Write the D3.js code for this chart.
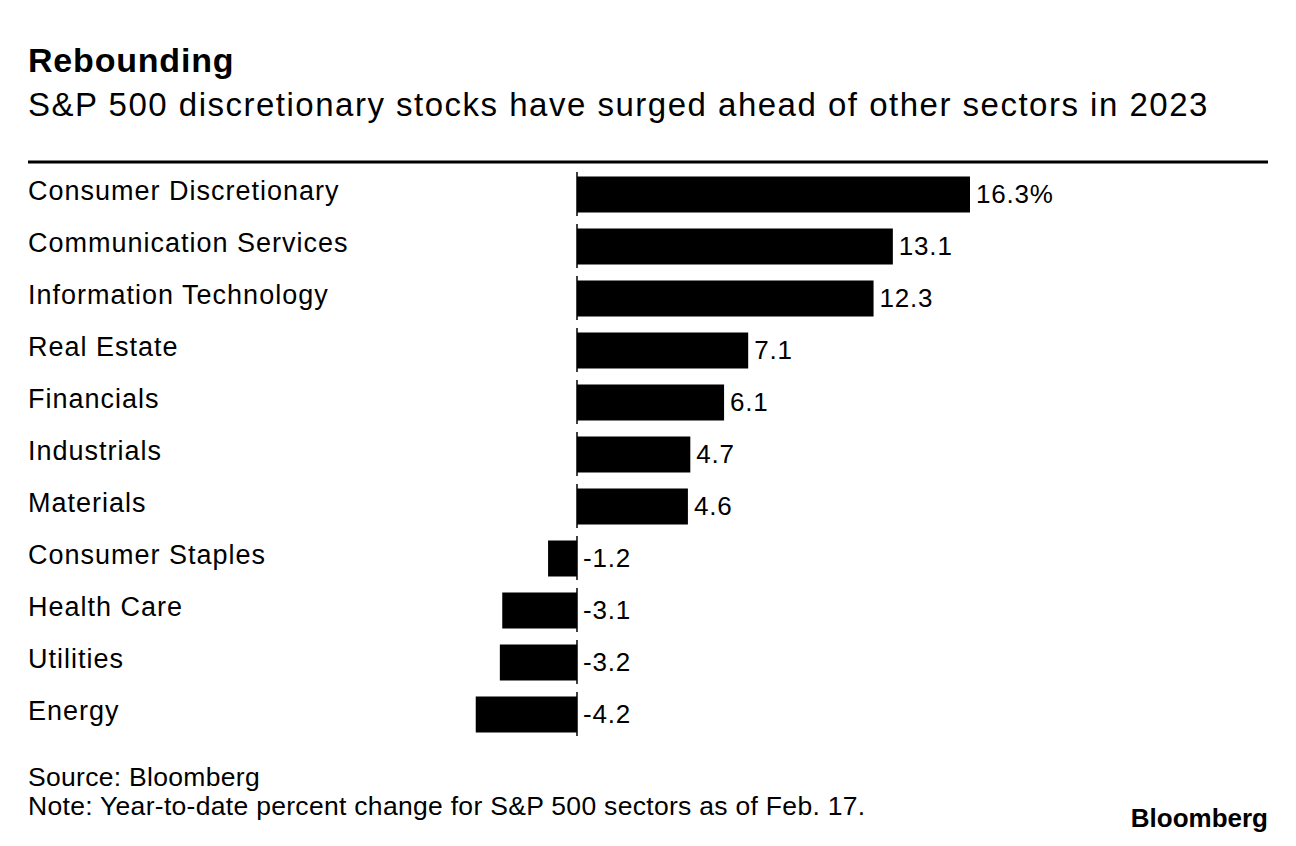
<!DOCTYPE html>
<html>
<head>
<meta charset="utf-8">
<script src="https://cdnjs.cloudflare.com/ajax/libs/d3/7.9.0/d3.min.js"></script>
<style>
  html, body { margin: 0; padding: 0; background: #fff; }
  svg { display: block; font-family: "Liberation Sans", Arial, sans-serif; }
</style>
</head>
<body>
<svg id="chart" width="1296" height="846"></svg>
<script>
const sectors = ['Consumer Discretionary', 'Communication Services', 'Information Technology',
  'Real Estate', 'Financials', 'Industrials', 'Materials', 'Consumer Staples',
  'Health Care', 'Utilities', 'Energy'];
const changes = [16.3, 13.1, 12.3, 7.1, 6.1, 4.7, 4.6, -1.2, -3.1, -3.2, -4.2];
const valueLabels = ['16.3%', '13.1', '12.3', '7.1', '6.1', '4.7', '4.6', '-1.2', '-3.1', '-3.2', '-4.2'];

const LEFT = 28, RIGHT = 1268;
const svg = d3.select('#chart');

// 제목
svg.append('text').attr('x', LEFT).attr('y', 72)
  .attr('font-size', 34).attr('font-weight', 700).attr('letter-spacing', 0.8)
  .attr('fill', '#000').text('Rebounding');
svg.append('text').attr('x', LEFT).attr('y', 116)
  .attr('font-size', 33).attr('letter-spacing', 1.5).attr('fill', '#000')
  .text('S&P 500 discretionary stocks have surged ahead of other sectors in 2023');

svg.append('line').attr('x1', LEFT).attr('x2', RIGHT).attr('y1', 162).attr('y2', 162)
  .attr('stroke', '#000').attr('stroke-width', 3);

// 스케일
const x = d3.scaleLinear().domain([0, 16.3]).range([577, 970]);
const y = d3.scaleBand().domain(sectors).range([172, 744]);
const barH = 36;

const rows = svg.append('g').selectAll('g').data(sectors).join('g')
  .attr('transform', d => `translate(0,${y(d)})`);

rows.append('text').attr('x', LEFT).attr('y', 28)
  .attr('font-size', 27).attr('letter-spacing', 1).attr('fill', '#000')
  .text(d => d);

rows.append('rect')
  .attr('x', (d, i) => Math.min(x(0), x(changes[i])))
  .attr('y', 4.5)
  .attr('width', (d, i) => Math.abs(x(changes[i]) - x(0)))
  .attr('height', barH)
  .attr('fill', '#000');

// 0 기준선 (행마다 끊김)
rows.append('line').attr('x1', x(0)).attr('x2', x(0)).attr('y1', 0).attr('y2', 44)
  .attr('stroke', '#000').attr('stroke-width', 1.5);

rows.append('text')
  .attr('x', (d, i) => Math.max(x(0), x(changes[i])) + 6)
  .attr('y', 30.5)
  .attr('font-size', 26).attr('letter-spacing', 0.8).attr('fill', '#000')
  .text((d, i) => valueLabels[i]);

// 각주
svg.append('text').attr('x', LEFT).attr('y', 786)
  .attr('font-size', 26.5).attr('letter-spacing', 0.3).attr('fill', '#000')
  .text('Source: Bloomberg');
svg.append('text').attr('x', LEFT).attr('y', 815)
  .attr('font-size', 26.5).attr('letter-spacing', 0.3).attr('fill', '#000')
  .text('Note: Year-to-date percent change for S&P 500 sectors as of Feb. 17.');
svg.append('text').attr('x', RIGHT).attr('y', 827)
  .attr('text-anchor', 'end').attr('font-size', 26).attr('font-weight', 700)
  .attr('fill', '#000').text('Bloomberg');
</script>
</body>
</html>
